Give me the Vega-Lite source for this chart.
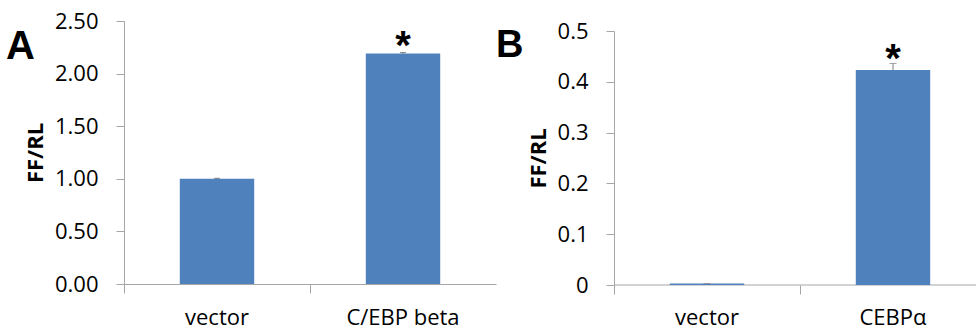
{
  "$schema": "https://vega.github.io/schema/vega-lite/v6.json",
  "padding": {"left": 6, "top": 10, "right": 0, "bottom": 0},
  "autosize": {"type": "pad"},
  "spacing": 0,
  "config": {
    "view": {"stroke": null},
    "font": "Open Sans",
    "axis": {
      "grid": false,
      "domainColor": "#a6a6a6",
      "tickColor": "#a6a6a6",
      "tickSize": 8,
      "labelFont": "Open Sans",
      "labelFontSize": 22,
      "labelColor": "#000000",
      "titleFont": "Open Sans",
      "titleFontSize": 22,
      "titleFontWeight": "bold",
      "titleColor": "#000000"
    },
    "title": {"font": "Liberation Sans", "fontWeight": "bold", "color": "#000000", "anchor": "start", "frame": "group", "baseline": "top"}
  },
  "datasets": {
    "cebpb": [
      {"construct": "vector", "ratio": 1.0, "upper": 1.005, "sig": ""},
      {"construct": "C/EBP beta", "ratio": 2.19, "upper": 2.2, "sig": "*"}
    ],
    "cebpa": [
      {"construct": "vector", "ratio": 0.003, "upper": 0.003, "sig": ""},
      {"construct": "CEBPα", "ratio": 0.423, "upper": 0.436, "sig": "*"}
    ],
    "baseline": [{"level": 0}]
  },
  "hconcat": [
    {
      "width": 372,
      "height": 263,
      "title": {"text": "A", "fontSize": 40, "dx": -118, "dy": 61},
      "data": {"name": "cebpb"},
      "encoding": {
        "x": {
          "field": "construct", "type": "nominal", "sort": null,
          "scale": {"paddingInner": 0, "paddingOuter": 0},
          "axis": {"title": null, "labelAngle": 0, "bandPosition": 0, "tickSize": 9, "labelPadding": 14}
        }
      },
      "layer": [
        {
          "mark": {"type": "bar", "color": "#4f81bd", "width": {"band": 0.4}},
          "encoding": {
            "y": {
              "field": "ratio", "type": "quantitative",
              "scale": {"domain": [0, 2.5], "nice": false},
              "axis": {"title": "FF/RL", "values": [0, 0.5, 1, 1.5, 2, 2.5], "format": ".2f", "labelPadding": 18, "titlePadding": 7}
            }
          }
        },
        {
          "mark": {"type": "rule", "color": "#595959"},
          "encoding": {"y": {"field": "ratio", "type": "quantitative"}, "y2": {"field": "upper"}}
        },
        {
          "mark": {"type": "tick", "color": "#595959", "thickness": 1, "size": 6},
          "encoding": {"y": {"field": "upper", "type": "quantitative"}}
        },
        {
          "mark": {"type": "text", "font": "Liberation Sans", "fontWeight": "bold", "fontSize": 40, "baseline": "alphabetic", "dy": 6, "color": "#000000"},
          "encoding": {"y": {"field": "upper", "type": "quantitative"}, "text": {"field": "sig"}}
        }
      ]
    },
    {
      "width": 362,
      "height": 264,
      "title": {"text": "B", "fontSize": 38, "dx": -118, "dy": 49},
      "layer": [
        {
          "data": {"name": "baseline"},
          "mark": {"type": "rule", "color": "#a6a6a6"},
          "encoding": {"y": {"field": "level", "type": "quantitative"}}
        },
        {
          "data": {"name": "cebpa"},
          "encoding": {
            "x": {
              "field": "construct", "type": "nominal", "sort": null,
              "scale": {"range": [0, 372], "paddingInner": 0, "paddingOuter": 0},
              "axis": {"title": null, "labelAngle": 0, "bandPosition": 0, "domain": false, "tickSize": 9, "labelPadding": 13}
            }
          },
          "layer": [
            {
              "mark": {"type": "bar", "color": "#4f81bd", "width": {"band": 0.4}},
              "encoding": {
                "y": {
                  "field": "ratio", "type": "quantitative",
                  "scale": {"domain": [0, 0.5], "nice": false, "range": [264, 10]},
                  "axis": {"title": "FF/RL", "values": [0, 0.1, 0.2, 0.3, 0.4, 0.5], "format": ".1~f", "labelPadding": 18, "titlePadding": 7}
                }
              }
            },
            {
              "mark": {"type": "rule", "color": "#7f7f7f"},
              "encoding": {"y": {"field": "ratio", "type": "quantitative"}, "y2": {"field": "upper"}}
            },
            {
              "mark": {"type": "tick", "color": "#7f7f7f", "thickness": 1, "size": 7},
              "encoding": {"y": {"field": "upper", "type": "quantitative"}}
            },
            {
              "mark": {"type": "text", "font": "Liberation Sans", "fontWeight": "bold", "fontSize": 40, "baseline": "alphabetic", "dy": 8, "color": "#000000"},
              "encoding": {"y": {"field": "upper", "type": "quantitative"}, "text": {"field": "sig"}}
            }
          ]
        }
      ]
    }
  ]
}
